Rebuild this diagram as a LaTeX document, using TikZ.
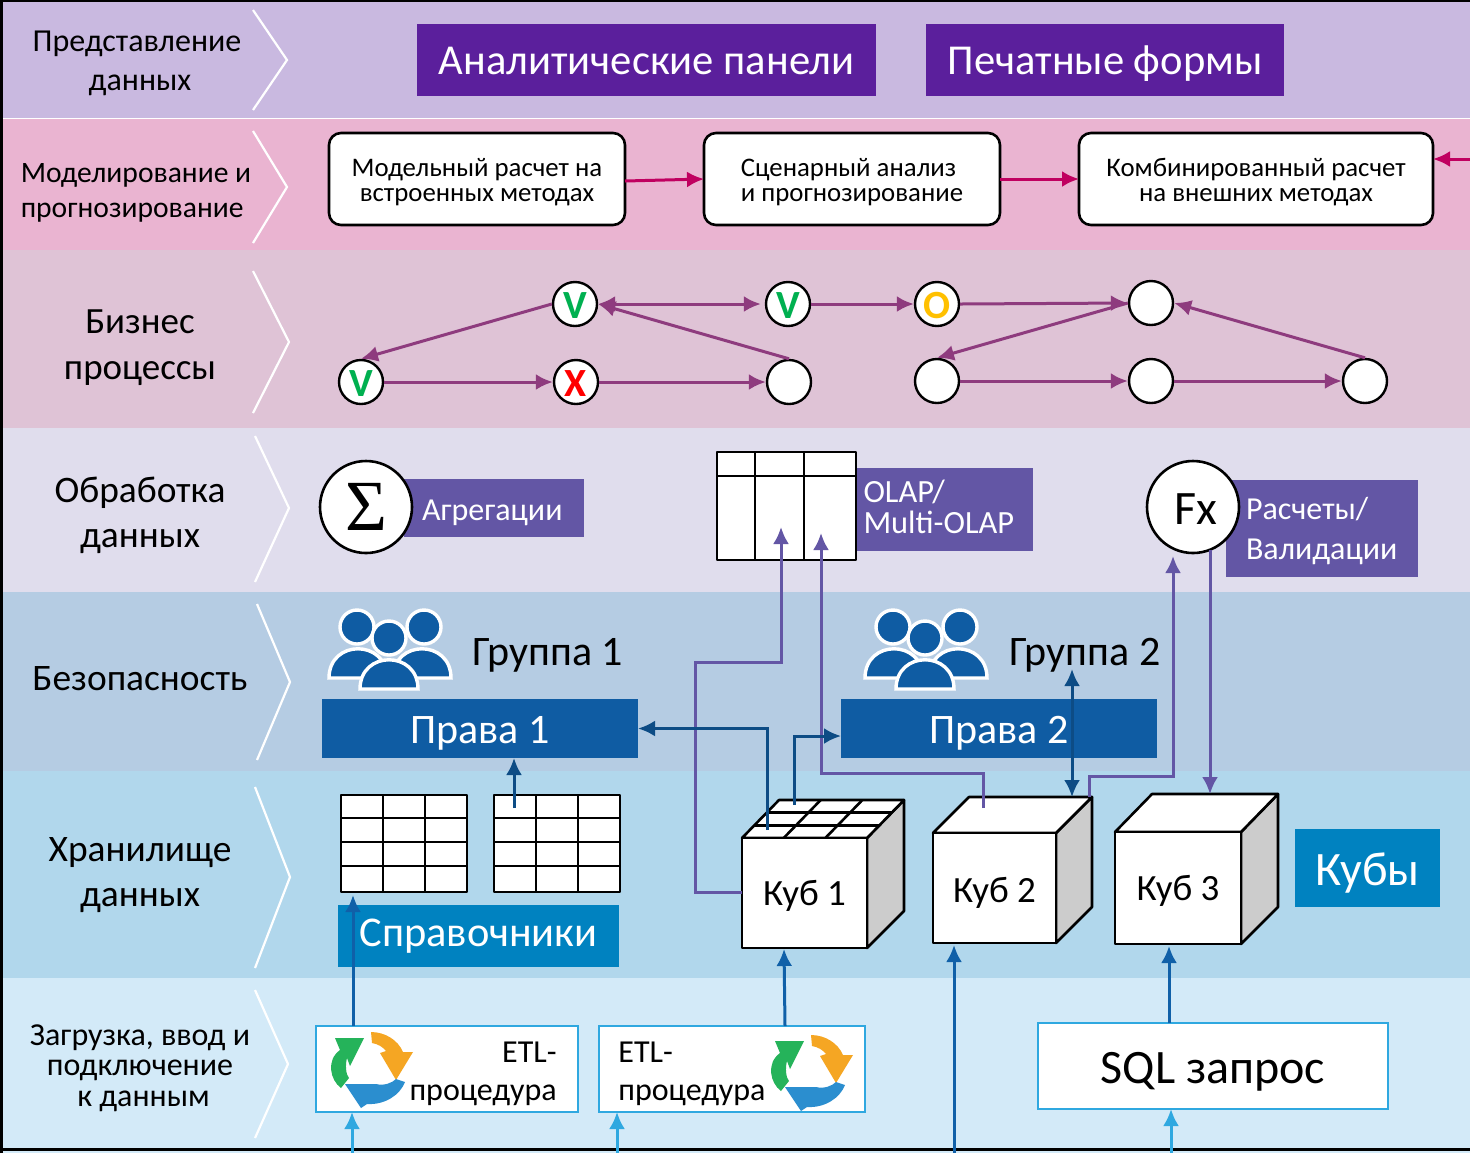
\documentclass[tikz,border=0pt]{standalone}
\usepackage{fontspec}
\setmainfont{Carlito}
\newfontfamily\sumfont{Liberation Serif}
\usepackage[usenames,dvipsnames]{xcolor}
\usetikzlibrary{arrows.meta}

\definecolor{bandA}{HTML}{C9B9E0}
\definecolor{bandB}{HTML}{EAB4D1}
\definecolor{bandC}{HTML}{DFC3D6}
\definecolor{bandD}{HTML}{E0DDED}
\definecolor{bandE}{HTML}{B5CCE3}
\definecolor{bandF}{HTML}{B1D7EC}
\definecolor{bandG}{HTML}{D3EAF8}
\definecolor{violetbox}{HTML}{5B1F9C}
\definecolor{lilacbox}{HTML}{6356A5}
\definecolor{bluebox}{HTML}{0F5CA3}
\definecolor{cyanbox}{HTML}{0082C0}
\definecolor{navyline}{HTML}{0D4C85}
\definecolor{blueline}{HTML}{1060A8}
\definecolor{skyline}{HTML}{2FA8E0}
\definecolor{plumline}{HTML}{8E3B7E}
\definecolor{pinkline}{HTML}{C00060}
\definecolor{iconG}{HTML}{25B35A}
\definecolor{iconO}{HTML}{F5A623}
\definecolor{iconB}{HTML}{2B8ECF}

\newcommand{\fsz}[2]{\fontsize{#1}{#2}\selectfont}

\tikzset{
  base/.style={text height=#1, text depth=0pt},
  chevron/.style={white, line width=1.1pt},
  whitebox/.style={draw=none, fill=#1, text=white, inner sep=0pt, outer sep=0pt},
  stepbox/.style={draw=black, line width=1.3pt, fill=white, rounded corners=6pt, inner sep=0pt, outer sep=0pt, align=center, font=\fsz{13.4}{12.5}, minimum height=46pt},
  etlbox/.style={draw=skyline, line width=1.3pt, fill=white, inner sep=0pt, outer sep=0pt},
  stage/.style={circle, draw=black, line width=1.2pt, fill=white, minimum size=22pt, inner sep=0pt, font=\fsz{20}{20}\bfseries, base=14pt},
  face/.style={draw=black, line width=1.3pt, line join=round, fill=white, inner sep=0pt, outer sep=0pt},
  plumarrow/.style={plumline, line width=1.5pt, -{Latex[length=8.5pt,width=8pt]}},
  pinkarrow/.style={pinkline, line width=1.5pt, -{Latex[length=8.5pt,width=8pt]}},
  lilacarrow/.style={lilacbox, line width=1.5pt, -{Latex[length=8.5pt,width=8pt]}},
  navyarrow/.style={navyline, line width=1.5pt, -{Latex[length=8.5pt,width=8pt]}},
  bluearrow/.style={blueline, line width=1.5pt, -{Latex[length=8.5pt,width=8pt]}},
  skyarrow/.style={skyline, line width=1.5pt, -{Latex[length=8.5pt,width=8pt]}},
}

% people icon, centre of the group at #1,#2
\newcommand{\people}[2]{
\begin{scope}[shift={(#1,#2)}, draw=white, line width=1.7pt, fill=bluebox]
  \filldraw (-32,-23) circle[radius=17];
  \filldraw (35,-23) circle[radius=17];
  \filldraw (-60,28) .. controls (-60,-11) and (-2,-11) .. (-2,28) -- cycle;
  \filldraw (4,28) .. controls (4,-11) and (62,-11) .. (62,28) -- cycle;
  \filldraw (0,-12) circle[radius=17];
  \filldraw (-29,39) .. controls (-29,0) and (29,0) .. (29,39) -- cycle;
\end{scope}
}

% round arrows of the ETL boxes
\newcommand{\etlicon}[2]{
\begin{scope}[shift={(#1,#2)}]
  \fill[iconG] (335,1038) -- (364,1038) -- (350,1066) -- (347,1058) .. controls (345,1065) and (346,1075) .. (349,1078) -- (341,1088) .. controls (330,1080) and (326,1060) .. (340,1050) -- cycle;
  \fill[iconO] (371,1032) .. controls (385,1032) and (398,1040) .. (403,1052) -- (413,1052) -- (396,1080) -- (380,1053) -- (386,1051) .. controls (383,1047) and (378,1044) .. (372,1043) -- cycle;
  \fill[iconB] (345,1084) -- (376,1084) .. controls (384,1086) and (392,1083) .. (396,1079) -- (405,1082) .. controls (400,1095) and (385,1105) .. (367,1104) -- (361,1108) -- cycle;
\end{scope}
}

\begin{document}
\begin{tikzpicture}[x=0.5pt, y=-0.5pt]
\useasboundingbox (0,0) rectangle (1470,1153);

% bands
\fill[bandA] (0,0) rectangle (1470,118);
\fill[bandB] (0,119) rectangle (1470,250);
\fill[bandC] (0,250) rectangle (1470,428);
\fill[bandD] (0,428) rectangle (1470,592);
\fill[bandE] (0,592) rectangle (1470,771);
\fill[bandF] (0,771) rectangle (1470,978);
\fill[bandG] (0,978) rectangle (1470,1153);
\draw[black, line width=1.2pt] (1.5,1153) -- (1.5,0.5) -- (1470,0.5);
\draw[black, line width=1.2pt] (0,1149.5) -- (1470,1149.5);

% chevrons
\draw[chevron] (253,10) -- (287,60) -- (253,110);
\draw[chevron] (253,131) -- (287,187) -- (253,243);
\draw[chevron] (253,271) -- (289,342) -- (253,413);
\draw[chevron] (255,436) -- (289,508) -- (255,582);
\draw[chevron] (257,604) -- (290,682) -- (257,760);
\draw[chevron] (255,787) -- (290,877) -- (255,968);
\draw[chevron] (255,990) -- (288,1064) -- (255,1138);

% left labels
\node[align=center, font=\fsz{16}{19.5}] (l1) at (137,63) {Представление\\ \hspace*{3pt}данных};
\node[align=left, font=\fsz{14.8}{17.5}] (l2) at (136,193) {Моделирование и\\ прогнозирование};
\node[align=center, font=\fsz{18.5}{23}] (l3) at (140,348) {Бизнес\\ процессы};
\node[align=center, font=\fsz{18.7}{22.5}] (l4) at (140,515) {Обработка\\ данных};
\node[font=\fsz{18.7}{22}] (l5) at (140,679) {Безопасность};
\node[align=center, font=\fsz{18.7}{22.5}] (l6) at (140,875) {Хранилище\\ данных};
\node[align=center, font=\fsz{16}{15.3}] (l7) at (140,1068) {Загрузка, ввод и\\ подключение\\ \hspace*{3.5pt}к данным};

% presentation
\node[whitebox=violetbox, base=14pt, minimum width=229.5pt, minimum height=36pt, font=\fsz{21.3}{21}] (panels) at (646.5,60) {Аналитические панели};
\node[whitebox=violetbox, base=14pt, minimum width=179pt, minimum height=36pt, font=\fsz{21.3}{21}] (forms) at (1105,60) {Печатные формы};

% modelling
\node[stepbox, minimum width=148pt] (m1) at (477,179) {\rule{0pt}{12pt}Модельный расчет на\\ встроенных методах};
\node[stepbox, minimum width=148pt, align=left] (m2) at (852,179) {\rule{0pt}{12pt}Сценарный анализ\\ и прогнозирование};
\node[stepbox, minimum width=177pt] (m3) at (1256,179) {\rule{0pt}{12pt}Комбинированный расчет\\ на внешних методах};
\coordinate (min) at (1470,159);
\draw[pinkarrow] ([yshift=-1pt]m1.east) -- (m2.west);
\draw[pinkarrow] (m2.east) -- (m3.west);
\draw[pinkarrow] (min) -- (m3.east |- min);

% business process
\node[stage, text={rgb,255:red,0;green,176;blue,80}] (v1) at (575,304) {V};
\node[stage, text={rgb,255:red,0;green,176;blue,80}] (v2) at (788,304) {V};
\node[stage, text={rgb,255:red,255;green,192;blue,0}] (o1) at (937,304) {O};
\node[stage] (e1) at (1151,303) {};
\node[stage, text={rgb,255:red,0;green,176;blue,80}] (v0) at (361,382) {V};
\node[stage, text=red] (x1) at (576,382) {X};
\node[stage] (e2) at (789,382) {};
\node[stage] (e3) at (937,381) {};
\node[stage] (e4) at (1151,381) {};
\node[stage] (e5) at (1365,381) {};
\draw[plumarrow] (v1.west) -- (v0.north);
\draw[plumarrow, {Latex[length=8.5pt,width=8pt]}-{Latex[length=8.5pt,width=8pt]}] (v1.east) -- ([xshift=-2pt]v2.west);
\draw[plumarrow] (e2.north) -- (v1.east);
\draw[plumarrow] (v2.east) -- (o1.west);
\draw[plumarrow] (o1.east) -- (e1.west);
\draw[plumarrow] (e1.west) -- (e3.north);
\draw[plumarrow] (e5.north) -- (e1.east);
\draw[plumarrow] (v0.east) -- (x1.west);
\draw[plumarrow] (x1.east) -- (e2.west);
\draw[plumarrow] (e3.east) -- (e4.west);
\draw[plumarrow] (e4.east) -- (e5.west);

% data processing
\node[whitebox=lilacbox, base=12pt, minimum width=90pt, minimum height=29pt, font=\fsz{16}{16}, text width=72pt, align=left] (agg) at (494,508) {Агрегации};
\node[circle, draw=black, line width=1.3pt, fill=white, minimum size=46pt, inner sep=0pt, font=\fsz{36}{36}\sumfont] (sum) at (366,507) {Σ};
\node[whitebox=lilacbox, minimum width=88.5pt, minimum height=41.5pt, text width=81pt, align=left, font=\fsz{16.2}{15.7}] (olap) at (944.5,509.5) {OLAP/\\ Multi-OLAP\rule[-3pt]{0pt}{0pt}};
\node[face, minimum width=69.5pt, minimum height=54pt] (tab) at (786.5,506) {};
\draw[black, line width=1.3pt] (755,452) -- (755,560) (804,452) -- (804,560) (717,476) -- (856,476);
\node[whitebox=lilacbox, minimum width=96pt, minimum height=48.5pt, text width=76pt, align=left, font=\fsz{16}{20}] (calc) at (1322,528.5) {\rule{0pt}{14pt}Расчеты/\\ Валидации};
\node[circle, draw=black, line width=1.3pt, fill=white, minimum size=46pt, inner sep=0pt, font=\fsz{24}{24}, base=17pt] (fx) at (1193,507) {\hspace*{3pt}Fx};

% security
\people{389}{650}
\people{925}{650}
\node[font=\fsz{21}{21}] (g1) at (548,655) {Группа 1};
\node[font=\fsz{21}{21}] (g2) at (1085,655) {Группа 2};
\node[whitebox=bluebox, base=15pt, minimum width=158pt, minimum height=29.5pt, font=\fsz{21}{21}] (r1) at (480,728.5) {Права 1};
\node[whitebox=bluebox, base=15pt, minimum width=158pt, minimum height=29.5pt, font=\fsz{21}{21}] (r2) at (999,728.5) {Права 2};

% storage: dictionaries
\node[face, minimum width=63pt, minimum height=48.5pt] (d1) at (404,843.5) {};
\node[face, minimum width=63pt, minimum height=48.5pt] (d2) at (557,843.5) {};
\foreach \dx in {341,494} {
  \draw[black, line width=1.3pt] (\dx+42,795) -- (\dx+42,892) (\dx+84,795) -- (\dx+84,892);
  \foreach \ry in {818,842,866}
    \draw[black, line width=1.3pt] (\dx,\ry) -- (\dx+126,\ry);
}
\node[whitebox=cyanbox, base=10pt, minimum width=140.5pt, minimum height=31pt, font=\fsz{21.2}{21}] (dict) at (478.5,936) {Справочники};

% storage: cubes
\filldraw[fill=black!20, draw=black, line width=1.3pt, line join=round] (867,838) -- (904,800) -- (904,911) -- (867,948) -- cycle;
\filldraw[fill=white, draw=black, line width=1.3pt, line join=round] (742,838) -- (779,800) -- (904,800) -- (867,838) -- cycle;
\foreach \t in {1,2} {
  \draw[black, line width=1.3pt] (742+\t*37/3,838-\t*38/3) -- (867+\t*37/3,838-\t*38/3);
  \draw[black, line width=1.3pt] (742+\t*125/3,838) -- (779+\t*125/3,800);
}
\node[face, base=12pt, minimum width=62.5pt, minimum height=55pt, font=\fsz{18.5}{18}] (k1) at (804.5,893) {Куб 1};

\filldraw[fill=black!20, draw=black, line width=1.3pt, line join=round] (1056,833) -- (1092,797) -- (1092,907) -- (1056,943) -- cycle;
\filldraw[fill=white, draw=black, line width=1.3pt, line join=round] (933,833) -- (969,797) -- (1092,797) -- (1056,833) -- cycle;
\node[face, base=14pt, minimum width=61.5pt, minimum height=55pt, font=\fsz{18.5}{18}] (k2) at (994.5,888) {Куб 2};

\filldraw[fill=black!20, draw=black, line width=1.3pt, line join=round] (1241,832) -- (1278,794) -- (1278,907) -- (1241,944) -- cycle;
\filldraw[fill=white, draw=black, line width=1.3pt, line join=round] (1115,832) -- (1152,794) -- (1278,794) -- (1241,832) -- cycle;
\node[face, base=12pt, minimum width=63pt, minimum height=56pt, font=\fsz{18.5}{18}] (k3) at (1178,888) {Куб 3};

\node[whitebox=cyanbox, base=17pt, minimum width=72.5pt, minimum height=39pt, font=\fsz{24}{24}] (cubes) at (1367.5,868) {Кубы};

% loading
\node[etlbox, minimum width=131pt, minimum height=43pt] (etl1) at (447,1069) {};
\node[etlbox, minimum width=133pt, minimum height=43pt] (etl2) at (732,1069) {};
\etlicon{0}{0}
\etlicon{440}{3}
\node[align=right, inner sep=0pt, font=\fsz{16}{19}, anchor=east] (etlt1) at (557,1074) {ETL-\\ процедура};
\node[align=left, inner sep=0pt, font=\fsz{16}{19}, anchor=west] (etlt2) at (618,1074) {ETL-\\ процедура};
\node[draw=skyline, line width=1.3pt, fill=white, base=17.5pt, minimum width=175pt, minimum height=43pt, inner sep=0pt, outer sep=0pt, font=\fsz{24}{24}] (sql) at (1213,1066) {SQL запрос};

% connectors
\coordinate (k1left) at (742,892);
\coordinate (ta) at (781,527);
\draw[lilacarrow] (k1left) -- (695,892) -- (695,662) -- (781,662) -- (ta);
\coordinate (k2a) at (983,808);
\coordinate (tb) at (821,533);
\draw[lilacarrow] (k2a) -- (983,773) -- (821,773) -- (tb);
\coordinate (k2b) at (1089,797);
\coordinate (fxin) at (1173,556);
\draw[lilacarrow] (k2b) -- (1089,776) -- (1173,776) -- (fxin);
\coordinate (fxout) at (1210,550);
\coordinate (k3in) at (1210,794);
\draw[lilacarrow] (fxout) -- (k3in);

\coordinate (k1a) at (767,830);
\draw[navyarrow] (k1a) |- (r1.east);
\coordinate (k1b) at (794,805);
\coordinate (r2in) at (841,736);
\draw[navyarrow] (k1b) |- (r2in);
\coordinate (d2a) at (514,808);
\draw[navyarrow] (d2a) -- (d2a |- r1.south);
\coordinate (g2up) at (1072,669);
\coordinate (k2up) at (1072,797);
\draw[navyarrow, {Latex[length=8.5pt,width=8pt]}-{Latex[length=8.5pt,width=8pt]}] (k2up) -- (g2up);

\coordinate (e1a) at (353,1026);
\coordinate (dictin) at (353,895);
\draw[bluearrow] (e1a) -- (dictin);
\coordinate (e2a) at (785,1026);
\draw[bluearrow] (e2a) -- (784,949);
\coordinate (k2low) at (954,1153);
\draw[bluearrow] (k2low) -- (954,945);
\coordinate (sqlout) at (1169,1023);
\draw[bluearrow] (sqlout) -- (1169,946);

\coordinate (in1) at (352,1153);
\coordinate (in2) at (617,1153);
\coordinate (in3) at (1171,1153);
\draw[skyarrow] (in1) -- (in1 |- etl1.south);
\draw[skyarrow] (in2) -- (in2 |- etl2.south);
\draw[skyarrow] (in3) -- (in3 |- sql.south);

\end{tikzpicture}
\end{document}
